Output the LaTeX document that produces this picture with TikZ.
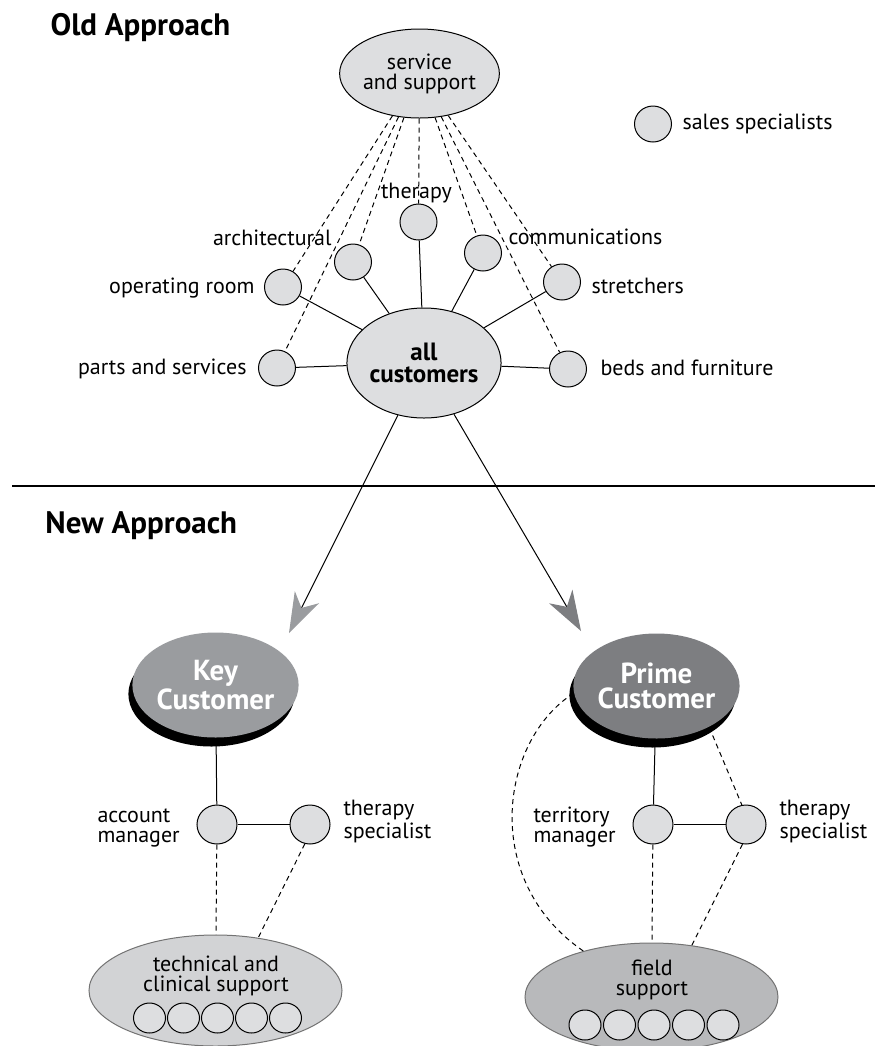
\documentclass[tikz,border=0pt]{standalone}
\usepackage{fontspec}
\setmainfont{PT Sans}
\usetikzlibrary{shapes.geometric,positioning,arrows.meta,shadows}
\definecolor{spotgrey}{RGB}{221,222,224}
\definecolor{keygrey}{RGB}{154,156,159}
\definecolor{primegrey}{RGB}{125,126,129}
\definecolor{techgrey}{RGB}{210,211,213}
\definecolor{fieldgrey}{RGB}{184,185,187}

\begin{document}
\begin{tikzpicture}[x=0.5pt, y=-0.5pt, line width=0.5pt,
  spot/.style={ellipse, draw, fill=spotgrey, inner sep=0pt, minimum width=18.5pt, minimum height=18pt},
  pair/.style={spot, minimum width=20pt, minimum height=19.5pt},
  dot/.style={spot, minimum width=16pt, minimum height=15pt},
  hub/.style={ellipse, draw, fill=spotgrey, inner sep=0pt, align=center},
  cust/.style={ellipse, inner sep=0pt, align=center, text=white, minimum width=69pt, minimum height=52.5pt,
    font=\bfseries\fontsize{14.5}{12.5}\selectfont,
    drop shadow={shadow xshift=-2pt, shadow yshift=-4.5pt, fill=black, opacity=1}},
  pool/.style={ellipse, draw=black!55, inner sep=0pt, minimum width=126.5pt},
  lbl/.style={inner sep=0pt, font=\fontsize{11}{10}\selectfont},
  head/.style={inner sep=0pt, font=\bfseries\fontsize{15.5}{15.5}\selectfont},
  support/.style={dash pattern=on 2.5pt off 2pt},
  big/.style={-{Stealth[length=20pt, width=13.5pt, inset=6pt, color=#1]}}]
\useasboundingbox (0,0) rectangle (876,1046);

\node[head, anchor=base west] (oldhead) at (50,35) {Old Approach};
\node[head, anchor=base west] (newhead) at (45,533) {New Approach};
\draw[line width=1pt] (12,486) -- (875,486);

\node[hub, minimum width=63.5pt, minimum height=44.5pt, font=\fontsize{11}{10}\selectfont] (serv) at (419.5,73.5) {service\\and support};
\node[hub, minimum width=70pt, minimum height=55pt, font=\bfseries\fontsize{12.5}{11}\selectfont] (allc) at (424,363) {all\\customers};

\node[spot] (sales) at (653,124) {};
\node[spot] (ther) at (418.5,222) {};
\node[spot] (arch) at (353,262) {};
\node[spot] (comm) at (483,253) {};
\node[spot] (oper) at (283,287) {};
\node[spot] (stret) at (562,282) {};
\node[spot] (parts) at (277,368) {};
\node[spot] (beds) at (568,369) {};

\node[lbl, anchor=base west] (salestxt) at (682,129) {sales specialists};
\node[lbl, anchor=base] (thertxt) at (416.5,198) {therapy};
\node[lbl, anchor=base east] (archtxt) at (332,245) {architectural};
\node[lbl, anchor=base west] (commtxt) at (508,244) {communications};
\node[lbl, anchor=base east] (opertxt) at (255,293) {operating room};
\node[lbl, anchor=base west] (strettxt) at (591,293) {stretchers};
\node[lbl, anchor=base east] (partstxt) at (247,374) {parts and services};
\node[lbl, anchor=base west] (bedstxt) at (600,375) {beds and furniture};

\foreach \s in {parts,oper,arch,ther,comm,stret,beds} {
  \draw (allc) -- (\s);
  \draw[support] (serv) -- (\s);
}

\coordinate (keytip) at (289,633);
\coordinate (primetip) at (581,631);
\draw[big=keygrey] (allc) -- (keytip);
\draw[big=primegrey] (allc) -- (primetip);

\node[cust, fill=keygrey] (key) at (215.5,685) {Key\\Customer};
\node[cust, fill=primegrey, minimum width=70.5pt] (prime) at (656.5,686) {Prime\\Customer};

\node[pair] (acct) at (217,824.5) {};
\node[pair] (thl) at (310,824.5) {};
\node[pair] (terr) at (653,824.5) {};
\node[pair] (thr) at (746,824.5) {};
\node[lbl, align=left, anchor=base west] (accttxt) at (97,842) {account\\manager};
\node[lbl, align=left, anchor=base west] (thltxt) at (343,838) {therapy\\specialist};
\node[lbl, align=left, anchor=base west] (terrtxt) at (533,842) {territory\\manager};
\node[lbl, align=left, anchor=base west] (thrtxt) at (779,838) {therapy\\specialist};

\node[pool, fill=techgrey, minimum height=55.5pt] (tech) at (215.5,990.5) {};
\node[pool, fill=fieldgrey, minimum height=54pt] (field) at (651.5,997) {};
\node[lbl, align=center, anchor=base] (techtxt) at (216,991) {technical and\\clinical support};
\node[lbl, align=center, anchor=base] (fieldtxt) at (652,995) {field\\support};
\foreach \i in {1,...,5} {
  \node[dot] (t\i) at ({217.5+(\i-3)*34},1018) {};
  \node[dot] (f\i) at ({654+(\i-3)*34.5},1025) {};
}

\draw (key) -- (acct);
\draw (acct) -- (thl);
\draw (prime) -- (terr);
\draw (terr) -- (thr);
\draw[support] (acct) -- (tech);
\draw[support] (thl.-105) -- (tech.51);
\draw[support] (terr) -- (field);
\draw[support] (thr.-100) -- (field.52);
\draw[support] (prime.-38) -- (thr.102);
\draw[support] (prime.185) .. controls (500,740) and (480,880) .. (field.146);
\end{tikzpicture}
\end{document}
